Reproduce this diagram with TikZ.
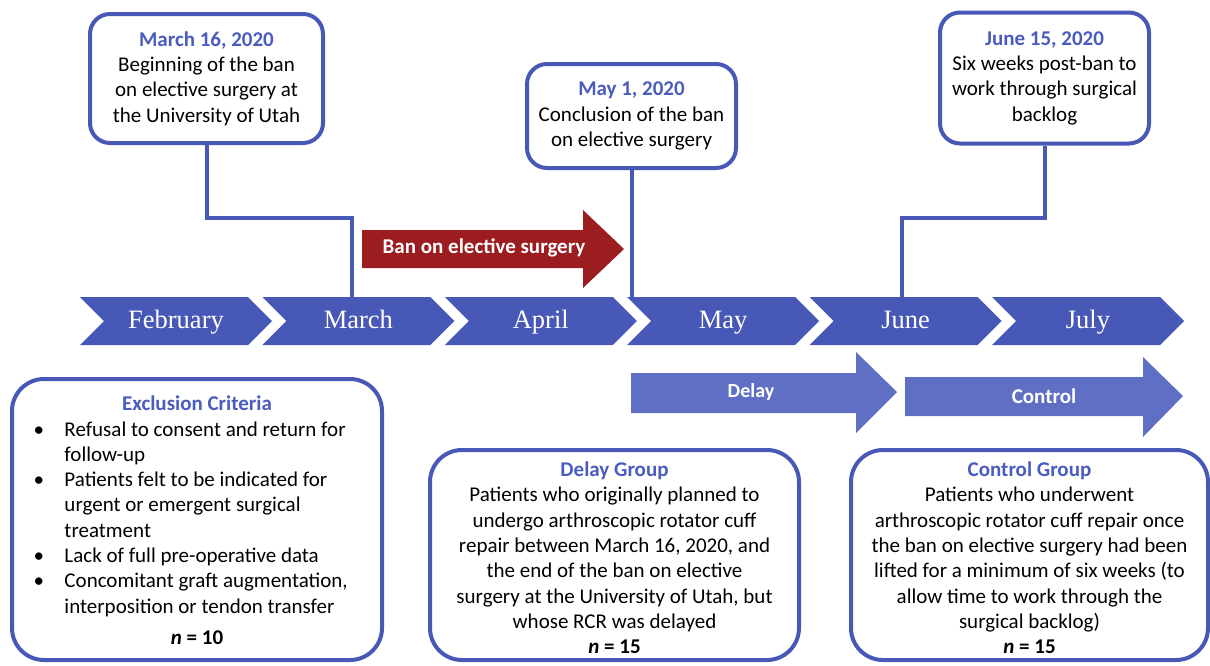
\documentclass[tikz,border=0pt]{standalone}
\usepackage{fontspec}
\setmainfont{Carlito}
\newfontfamily\monthfont{Liberation Serif}
\usepackage{tikz}
\usetikzlibrary{positioning}
\usetikzlibrary{shapes, arrows}
\definecolor{boxblue}{RGB}{72,88,182}
\definecolor{titleblue}{RGB}{74,92,192}
\definecolor{lightblue}{RGB}{94,111,196}
\definecolor{banred}{RGB}{155,29,32}

\begin{document}
\begin{tikzpicture}[x=1pt, y=-1pt, node distance = 182.4pt, auto]
    \tikzstyle{datebox} = [rectangle, draw=boxblue, line width=4pt, fill=white,
    rounded corners=20pt, align=center, inner sep=0pt,
    font=\fontsize{21}{25.3}\selectfont]
    \tikzstyle{groupbox} = [rectangle, draw=boxblue, line width=4pt, fill=white,
    rounded corners=32pt, inner sep=0pt, font=\fontsize{21}{25.3}\selectfont]
    \tikzstyle{month} = [signal, signal from=west, signal to=east,
    signal pointer angle=90, fill=boxblue, text=white, minimum width=192pt,
    minimum height=48pt, inner sep=0pt, text height=18pt, text depth=3pt,
    font=\monthfont\fontsize{26.5}{26.5}\selectfont]
    \tikzstyle{link} = [draw=boxblue, line width=4pt]
    \tikzstyle{arrowtext} = [text=white, font=\bfseries\fontsize{21}{21}\selectfont]
    \useasboundingbox (0,0) rectangle (1210,665);
    % date boxes on top
    \node [datebox, minimum width=233pt, minimum height=129pt] (mar16) at (206.5,78.5)
    {\textcolor{titleblue}{\bfseries March 16, 2020}\\ Beginning of the ban\\
    on elective surgery at\\ the University of Utah};
    \node [datebox, minimum width=209pt, minimum height=104pt] (may1) at (631.5,116)
    {\textcolor{titleblue}{\bfseries May 1, 2020}\\ Conclusion of the ban\\
    on elective surgery};
    \node [datebox, minimum width=209pt, minimum height=131pt] (jun15) at (1044.5,78)
    {\textcolor{titleblue}{\bfseries June 15, 2020}\\ Six weeks post-ban to\\
    work through surgical\\ backlog};
    \coordinate (marfoot) at (352,300);
    \coordinate (mayfoot) at (631.5,300);
    \coordinate (junfoot) at (902,300);
    \path [link] (mar16.south) -- ++(0,73) -| (marfoot);
    \path [link] (may1.south) -- (mayfoot);
    \path [link] (jun15.south) -- ++(0,72) -| (junfoot);
    % ban arrow
    \fill [banred] (362,230) -- (583,230) -- (583,210) -- (624,249) -- (583,288)
    -- (583,268) -- (362,268) -- cycle;
    \node [arrowtext] (ban) at (484,248) {Ban on elective surgery};
    % months
    \node [month] (feb) at (176,321) {February};
    \node [month, right of=feb] (mar) {March};
    \node [month, right of=mar] (apr) {April};
    \node [month, right of=apr] (may) {May};
    \node [month, right of=may] (jun) {June};
    \node [month, right of=jun] (jul) {July};
    % group arrows
    \fill [lightblue] (631,373) -- (856,373) -- (856,352) -- (897,392) -- (856,433)
    -- (856,413) -- (631,413) -- cycle;
    \node [arrowtext, font=\bfseries\fontsize{20}{20}\selectfont] (delay) at (751,392) {Delay};
    \fill [lightblue] (905,377) -- (1143,377) -- (1143,357) -- (1183,396) -- (1143,437)
    -- (1143,416) -- (905,416) -- cycle;
    \node [arrowtext] (control) at (1044,396) {Control};
    % group boxes
    \node [groupbox, minimum width=370pt, minimum height=281pt] (exclusion) at (197,519.5)
    {\raisebox{-3pt}[\height][\depth]{\begin{tabular}{@{}p{31pt}@{}p{296pt}@{}}
    \multicolumn{2}{c}{\textcolor{titleblue}{\bfseries Exclusion Criteria}}\\
    \textbullet & Refusal to consent and return for\\
    & follow-up\\
    \textbullet & Patients felt to be indicated for\\
    & urgent or emergent surgical\\
    & treatment\\
    \textbullet & Lack of full pre-operative data\\
    \textbullet & Concomitant graft augmentation,\\
    & interposition or tendon transfer\\[6pt]
    \multicolumn{2}{c}{\textbf{\textit{n} = 10}}
    \end{tabular}}};
    \node [groupbox, minimum width=369pt, minimum height=210pt] (delaygroup) at (614.5,555)
    {\raisebox{-5pt}[\height][\depth]{\begin{tabular}{@{}c@{}}
    \textcolor{titleblue}{\bfseries Delay Group}\\ Patients who originally planned to\\
    undergo arthroscopic rotator cuff\\ repair between March 16, 2020, and\\
    the end of the ban on elective\\ surgery at the University of Utah, but\\
    whose RCR was delayed\\ \textbf{\textit{n} = 15}
    \end{tabular}}};
    \node [groupbox, minimum width=357pt, minimum height=210pt] (controlgroup) at (1029.5,555)
    {\raisebox{-5pt}[\height][\depth]{\begin{tabular}{@{}c@{}}
    \textcolor{titleblue}{\bfseries Control Group}\\ Patients who underwent\\
    arthroscopic rotator cuff repair once\\ the ban on elective surgery had been\\
    lifted for a minimum of six weeks (to\\ allow time to work through the\\
    surgical backlog)\\ \textbf{\textit{n} = 15}
    \end{tabular}}};
\end{tikzpicture}
\end{document}
